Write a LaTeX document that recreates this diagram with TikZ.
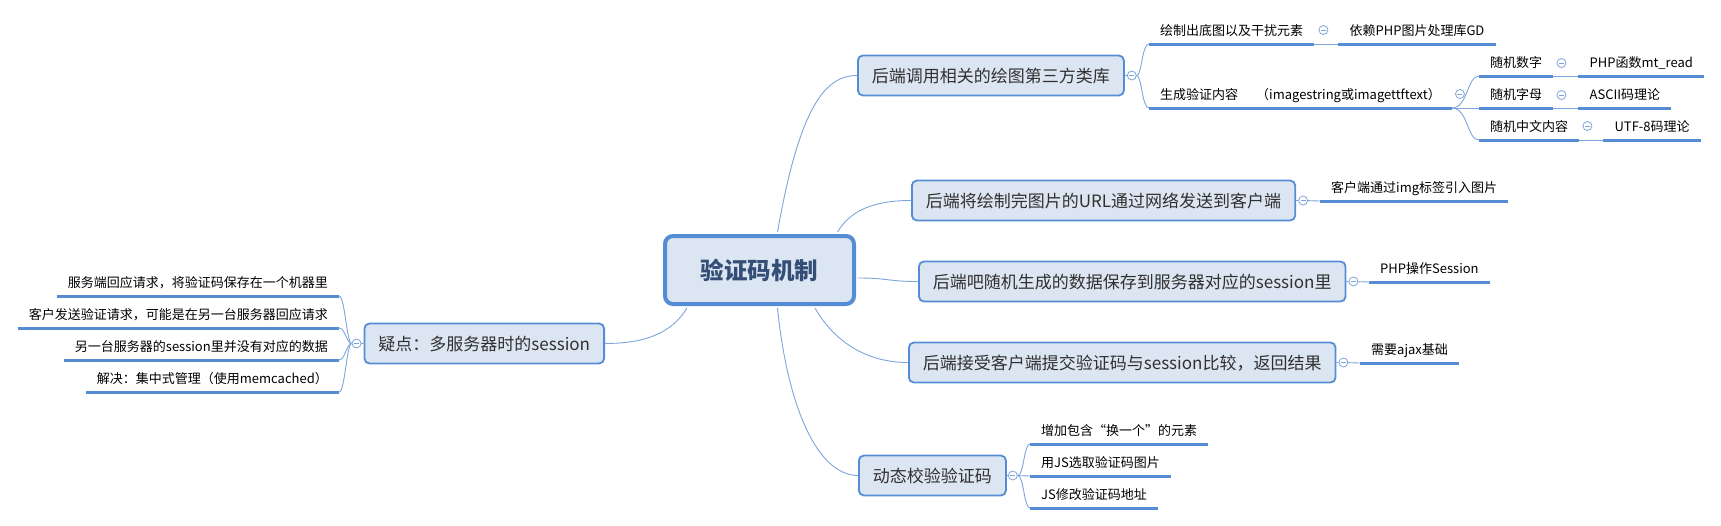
\documentclass[tikz,border=0pt]{standalone}
\usepackage{fontspec}
\usepackage{tikz}
\usetikzlibrary{positioning}
\newfontfamily\cjk{Noto Sans CJK SC}
\definecolor{boxfill}{RGB}{220,230,242}
\definecolor{boxline}{RGB}{84,141,212}
\definecolor{linkline}{RGB}{125,165,220}
\definecolor{roottext}{RGB}{52,78,120}
\definecolor{topictext}{RGB}{48,48,48}

\tikzset{
  rootbox/.style={draw=boxline, line width=4pt, fill=boxfill, rounded corners=8pt,
    minimum width=189pt, minimum height=68pt, text=roottext,
    font=\cjk\bfseries\fontsize{23.5}{26}\selectfont, text height=20pt, text depth=2pt},
  topic/.style={draw=boxline, line width=1.8pt, fill=boxfill, rounded corners=5pt,
    minimum height=40pt, inner xsep=14pt, text=topictext,
    font=\cjk\fontsize{17}{20}\selectfont, text height=15pt, text depth=2pt},
  leaf/.style={inner xsep=11pt, inner ysep=6.5pt,
    font=\cjk\fontsize{13}{15}\selectfont, text height=12pt, text depth=2pt},
  link/.style={draw=linkline, line width=0.9pt},
  uline/.style={draw=boxline, line width=3pt},
  fold/.style={circle, draw=linkline, fill=white, line width=0.8pt, minimum size=9pt, inner sep=0pt,
    path picture={\draw[linkline, line width=0.8pt] ([xshift=-2.5pt]path picture bounding box.center) -- ([xshift=2.5pt]path picture bounding box.center);}},
}

\begin{document}
\begin{tikzpicture}[x=1pt, y=-1pt]
\useasboundingbox (0,0) rectangle (1721,525);
% center
\node[rootbox] (root) at (759.5,270) {验证码机制};
% main branches
\node[topic, anchor=west] (b1) at (857,75.5) {后端调用相关的绘图第三方类库};
\node[topic, anchor=west] (b2) at (911,200.5) {后端将绘制完图片的URL通过网络发送到客户端};
\node[topic, anchor=west] (b3) at (918,281.5) {后端吧随机生成的数据保存到服务器对应的session里};
\node[topic, anchor=west] (b4) at (908,362.5) {后端接受客户端提交验证码与session比较，返回结果};
\node[topic, anchor=west] (b5) at (858,475.5) {动态校验验证码};
\node[topic, anchor=east] (b6) at (605,343.5) {疑点：多服务器时的session};
% leaves
\node[leaf, anchor=south west] (l11) at (1149,44) {绘制出底图以及干扰元素};
\node[leaf, anchor=south west] (l111) at ([xshift=24]l11.south east) {依赖PHP图片处理库GD};
\node[leaf, anchor=south west] (l12) at (1149,108) {生成验证内容\hspace{18pt}（imagestring或imagettftext）};
\node[leaf, anchor=south west] (l121) at (1479,76) {随机数字};
\node[leaf, anchor=south west] (l122) at (1479,108) {随机字母};
\node[leaf, anchor=south west] (l123) at (1479,140) {随机中文内容};
\node[leaf, anchor=south west] (l1211) at ([xshift=25]l121.south east) {PHP函数mt\_read};
\node[leaf, anchor=south west] (l1221) at ([xshift=25]l122.south east) {ASCII码理论};
\node[leaf, anchor=south west] (l1231) at ([xshift=24]l123.south east) {UTF-8码理论};
\node[leaf, anchor=south west] (l21) at (1320,201) {客户端通过img标签引入图片};
\node[leaf, anchor=south west] (l31) at (1369,282) {PHP操作Session};
\node[leaf, anchor=south west] (l41) at (1360,363) {需要ajax基础};
\node[leaf, anchor=south west] (l51) at (1030,444) {增加包含“换一个”的元素};
\node[leaf, anchor=south west] (l52) at (1030,476) {用JS选取验证码图片};
\node[leaf, anchor=south west] (l53) at (1030,508) {JS修改验证码地址};
\node[leaf, anchor=south east] (l61) at (339,296) {服务端回应请求，将验证码保存在一个机器里};
\node[leaf, anchor=south east] (l62) at (339,328) {客户发送验证请求，可能是在另一台服务器回应请求};
\node[leaf, anchor=south east] (l63) at (339,360) {另一台服务器的session里并没有对应的数据};
\node[leaf, anchor=south east] (l64) at (339,392) {解决：集中式管理（使用memcached）};
% fold marks
\node[fold] (c1) at ([xshift=7]b1.east) {};
\node[fold] (c2) at ([xshift=7]b2.east) {};
\node[fold] (c3) at ([xshift=7]b3.east) {};
\node[fold] (c4) at ([xshift=7]b4.east) {};
\node[fold] (c5) at ([xshift=6]b5.east) {};
\node[fold] (c6) at ([xshift=-7]b6.west) {};
% curves from the center
\draw[link] ([xshift=18,yshift=2]root.north) .. controls +(22,-125) and +(-32,0) .. (b1.west);
\draw[link] ([xshift=78,yshift=2]root.north) .. controls +(12,-20) and +(-40,0) .. (b2.west);
\draw[link] ([xshift=2,yshift=-8]root.east) .. controls +(30,0) and +(-30,0) .. (b3.west);
\draw[link] ([xshift=55.5,yshift=-2]root.south) .. controls +(20,35) and +(-40,0) .. (b4.west);
\draw[link] ([xshift=18,yshift=-2]root.south) .. controls +(10,100) and +(-40,0) .. (b5.west);
\draw[link] ([xshift=-72.5,yshift=-2]root.south) .. controls +(-15,25) and +(40,0) .. (b6.east);
% branch links
\draw[link] (b1) -- (c1);
\draw[link] (c1.east) .. controls +(5,0) and +(-7,0) .. (l11.south west);
\draw[link] (c1.east) .. controls +(5,0) and +(-7,0) .. (l12.south west);
\draw[link] (l11.south east) -- (l111.south west);
\draw[link] (l12.south east) .. controls +(16,0) and +(-12,0) .. (l121.south west);
\draw[link] (l12.south east) -- (l122.south west);
\draw[link] (l12.south east) .. controls +(16,0) and +(-12,0) .. (l123.south west);
\draw[link] (l121.south east) -- (l1211.south west);
\draw[link] (l122.south east) -- (l1221.south west);
\draw[link] (l123.south east) -- (l1231.south west);
\draw[link] (b2) -- (c2) -- (l21.south west);
\draw[link] (b3) -- (c3) -- (l31.south west);
\draw[link] (b4) -- (c4) -- (l41.south west);
\draw[link] (b5) -- (c5) -- (l52.south west);
\foreach \n in {l51,l53}
  \draw[link] (c5.east) .. controls +(6,0) and +(-6,0) .. (\n.south west);
\draw[link] (b6) -- (c6);
\foreach \n in {l61,l62,l63,l64}
  \draw[link] (c6.west) .. controls +(-5,0) and +(6,0) .. (\n.south east);
% underlines
\foreach \n in {l11,l111,l12,l121,l1211,l122,l1221,l123,l1231,l21,l31,l41,l51,l52,l53,l61,l62,l63,l64}
  \draw[uline] (\n.south west) -- (\n.south east);
% fold marks on leaves
\node[fold] (c11) at ([xshift=9,yshift=14]l11.south east) {};
\node[fold] (c12) at ([xshift=8,yshift=14]l12.south east) {};
\node[fold] (c121) at ([xshift=8,yshift=13]l121.south east) {};
\node[fold] (c122) at ([xshift=8,yshift=13]l122.south east) {};
\node[fold] (c123) at ([xshift=8,yshift=14]l123.south east) {};
\end{tikzpicture}
\end{document}
